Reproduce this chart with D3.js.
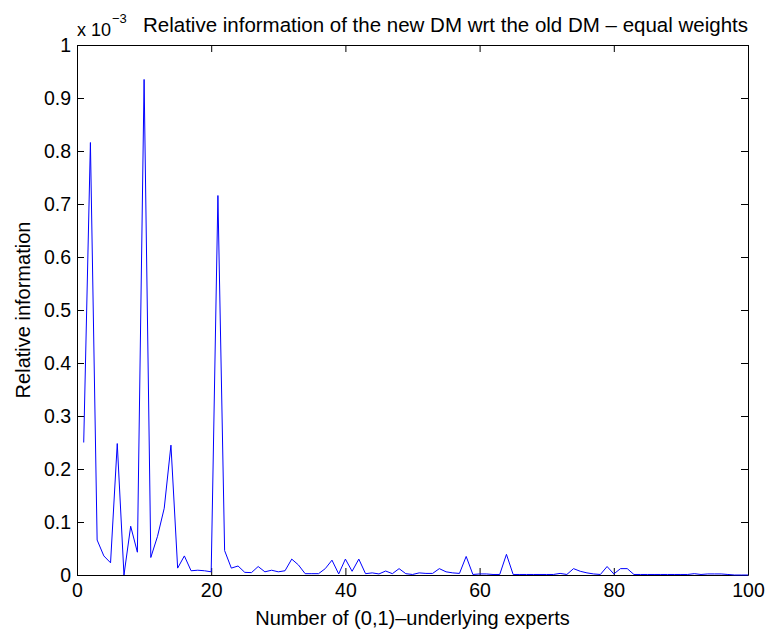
<!DOCTYPE html>
<html>
<head>
<meta charset="utf-8">
<script src="https://cdn.jsdelivr.net/npm/d3@7"></script>
<style>
  body { margin: 0; background: #fff; }
  svg text { font-family: "Liberation Sans", Arial, sans-serif; fill: #000; }
</style>
</head>
<body>
<svg id="chart" width="770" height="635"></svg>
<script>
// relative information values (x 10^-3), one per number of experts 1..100
const experts = d3.range(1, 101)
const relInfo = [
    0.250, 0.816, 0.066, 0.036, 0.023, 0.248, 0.000, 0.092, 0.043, 0.935,
    0.033, 0.073, 0.126, 0.245, 0.013, 0.036, 0.008, 0.009, 0.008, 0.006,
    0.716, 0.046, 0.013, 0.017, 0.005, 0.0045, 0.016, 0.006, 0.009, 0.006,
    0.008, 0.030, 0.019, 0.0025, 0.0025, 0.0025, 0.012, 0.028, 0.002, 0.030,
    0.007, 0.030, 0.0025, 0.004, 0.002, 0.0075, 0.0025, 0.012, 0.0025, 0.001,
    0.004, 0.003, 0.003, 0.012, 0.006, 0.004, 0.003, 0.035, 0.001, 0.002,
    0.002, 0.001, 0.001, 0.039, 0.001, 0.001, 0.001, 0.001, 0.001, 0.001,
    0.001, 0.003, 0.001, 0.012, 0.007, 0.004, 0.002, 0.001, 0.016, 0.002,
    0.012, 0.012, 0.001, 0.001, 0.001, 0.001, 0.001, 0.001, 0.001, 0.001,
    0.001, 0.0025, 0.001, 0.002, 0.002, 0.002, 0.001, 0.000, 0.000, 0.000
]
const xTicks = [0, 20, 40, 60, 80, 100]
const yTicks = d3.range(0, 11).map(i => i / 10)

const margin = { left: 77, right: 22, top: 45, bottom: 60 }
const width = 770, height = 635
const svg = d3.select('#chart')

const x = d3.scaleLinear().domain([0, 100]).range([margin.left, width - margin.right])
const y = d3.scaleLinear().domain([0, 1]).range([height - margin.bottom, margin.top])

const fmt = d => d === 0 || d === 1 ? String(d) : d3.format('.1f')(d)

// box with inward ticks on all four sides
svg.append('g')
    .attr('transform', `translate(0,${y(0)})`)
    .call(d3.axisBottom(x).tickValues(xTicks).tickSize(-7).tickPadding(8).tickSizeOuter(0))
svg.append('g')
    .attr('transform', `translate(0,${y(1)})`)
    .call(d3.axisTop(x).tickValues(xTicks).tickSize(-7).tickFormat('').tickSizeOuter(0))
svg.append('g')
    .attr('transform', `translate(${x(0)},0)`)
    .call(d3.axisLeft(y).tickValues(yTicks).tickSize(-7).tickPadding(6).tickFormat(fmt).tickSizeOuter(0))
svg.append('g')
    .attr('transform', `translate(${x(100)},0)`)
    .call(d3.axisRight(y).tickValues(yTicks).tickSize(-7).tickFormat('').tickSizeOuter(0))

svg.selectAll('.domain').attr('stroke', '#000').attr('stroke-width', 1)
svg.selectAll('.tick line').attr('stroke', '#000')
svg.selectAll('.tick text').style('font-size', '19.5px')

svg.append('path')
    .datum(experts)
    .attr('fill', 'none')
    .attr('stroke', '#0000ff')
    .attr('stroke-width', 1)
    .attr('d', d3.line().x(d => x(d)).y((d, i) => y(relInfo[i])))

// exponent label
const expo = svg.append('text')
    .attr('x', 77)
    .attr('y', 36)
    .style('font-size', '18px')
expo.append('tspan').text('x 10')
expo.append('tspan').attr('dy', -13).attr('dx', 1).style('font-size', '13px').text('\u22123')

svg.append('text')
    .attr('x', 748)
    .attr('y', 32)
    .attr('text-anchor', 'end')
    .style('font-size', '20.5px')
    .text('Relative information of the new DM wrt the old DM \u2013 equal weights')

svg.append('text')
    .attr('x', x(50))
    .attr('y', 625)
    .attr('text-anchor', 'middle')
    .style('font-size', '20px')
    .text('Number of (0,1)\u2013underlying experts')

svg.append('text')
    .attr('transform', `translate(30,${y(0.5)}) rotate(-90)`)
    .attr('text-anchor', 'middle')
    .style('font-size', '20px')
    .text('Relative information')
</script>
</body>
</html>
